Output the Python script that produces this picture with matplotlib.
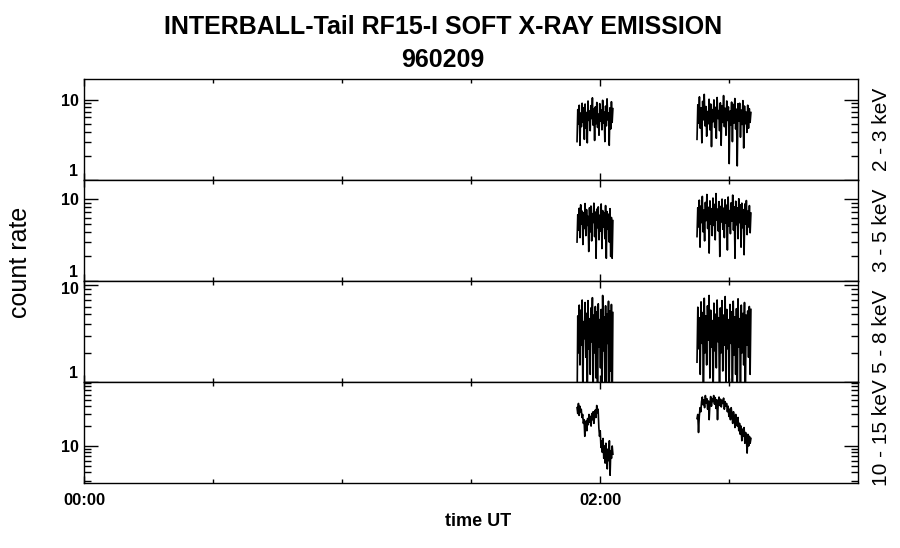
import numpy as np
import matplotlib
matplotlib.use("Agg")
import matplotlib.pyplot as plt
import matplotlib.transforms as mtransforms
from matplotlib.ticker import FixedLocator, FixedFormatter, LogLocator, NullFormatter

plt.rcParams["font.family"] = ["Liberation Sans", "DejaVu Sans"]

# time of the two data passes (hours UT)
seg_a_start, seg_a_end = 1.911, 2.050
seg_b_start, seg_b_end = 2.376, 2.585

bands = ["2 - 3 keV", "3 - 5 keV", "5 - 8 keV", "10 - 15 keV"]

# count rates, pass A / pass B for each band
p1a = [3.0, 7.5, 5.0, 8.5, 2.7, 6.8, 4.6, 9.0, 5.2, 7.9, 3.2, 8.8, 4.4, 6.9, 2.9, 9.6, 5.5,
       7.2, 4.1, 8.4, 5.8, 10.5, 4.8, 7.6, 3.1, 8.1, 5.0, 9.2, 4.5, 6.6, 3.6, 8.9, 5.4, 7.4,
       4.2, 9.8, 5.1, 7.0, 3.0, 8.3, 4.7, 10.2, 5.6, 6.8, 2.7, 7.9, 4.3, 9.4, 5.2, 7.7]
p1b = [3.2, 8.6, 5.1, 10.8, 4.4, 7.9, 2.9, 9.5, 5.6, 11.6, 4.7, 8.2, 3.5, 7.1, 5.0, 10.1,
       4.2, 8.8, 2.6, 7.5, 5.3, 9.9, 4.5, 8.0, 3.3, 10.6, 5.8, 7.3, 4.1, 9.1, 2.7, 8.4, 5.2,
       11.2, 4.6, 7.8, 3.6, 9.6, 5.5, 8.1, 1.6, 7.2, 4.8, 9.3, 3.0, 8.7, 5.1, 10.3, 4.3, 7.6,
       1.5, 8.9, 5.4, 9.0, 3.4, 7.4, 4.9, 9.7, 2.5, 8.3, 5.0, 7.0, 3.9, 8.5, 4.4, 7.7, 5.2, 6.9]
p2a = [3.0, 6.5, 4.2, 7.8, 3.4, 8.6, 5.0, 7.2, 2.8, 6.9, 4.4, 8.9, 3.6, 7.5, 4.8, 6.2, 2.3,
       7.9, 4.0, 8.3, 3.1, 6.7, 5.2, 9.0, 3.5, 7.0, 1.9, 7.6, 4.5, 8.1, 3.2, 6.4, 4.1, 8.8,
       2.5, 7.3, 4.6, 6.8, 3.3, 8.4, 1.9, 7.1, 4.3, 6.6, 3.0, 7.7, 2.0, 6.0, 1.9, 5.5]
p2b = [3.5, 7.9, 4.6, 9.8, 2.6, 8.3, 5.2, 10.9, 4.0, 7.4, 3.1, 9.2, 5.5, 11.5, 4.4, 8.0, 2.2,
       9.6, 5.0, 7.7, 3.6, 10.4, 4.8, 8.7, 3.2, 11.8, 5.6, 7.6, 4.1, 9.4, 2.0, 8.2, 5.3, 10.1,
       4.3, 7.8, 3.4, 9.9, 5.1, 8.5, 2.4, 10.7, 4.7, 7.3, 3.8, 9.1, 5.4, 11.3, 4.2, 8.1, 1.9,
       9.5, 4.9, 7.9, 3.3, 10.2, 5.2, 8.6, 2.6, 9.0, 4.5, 7.5, 2.1, 8.8, 5.0, 9.7, 3.7, 7.2,
       4.6, 8.4, 3.9, 6.8]
p3a = [0.5, 4.8, 2.0, 6.2, 1.5, 5.5, 2.4, 7.0, 0.6, 4.2, 2.8, 6.6, 1.8, 5.1, 0.5, 6.9, 2.2,
       4.5, 1.2, 5.8, 2.6, 7.4, 0.7, 4.9, 2.0, 6.0, 1.1, 5.3, 0.5, 6.4, 2.3, 4.4, 1.4, 5.6,
       0.6, 7.8, 2.1, 4.7, 1.0, 6.1, 0.5, 5.0, 2.5, 6.8, 0.5, 5.4, 1.3, 6.3, 0.5, 5.2]
p3b = [1.6, 5.9, 2.2, 4.6, 1.2, 6.7, 2.5, 5.2, 0.5, 7.3, 2.0, 4.8, 1.5, 6.1, 2.7, 7.8, 1.1,
       5.5, 2.3, 4.3, 0.6, 6.5, 2.1, 5.0, 1.4, 7.0, 2.6, 4.6, 0.5, 5.8, 2.0, 6.9, 1.3, 4.9,
       2.4, 7.6, 0.7, 5.6, 2.2, 4.4, 1.0, 6.3, 2.5, 5.3, 0.5, 6.8, 1.9, 4.7, 1.2, 5.7, 0.5,
       7.2, 2.3, 4.5, 0.6, 6.2, 2.0, 5.1, 1.5, 6.6, 0.5, 4.9, 2.4, 5.4, 1.8, 6.0, 1.2, 5.6]
p4a = [38, 31, 44, 29, 40, 33, 36, 27, 30, 22, 25, 14, 19, 24, 17, 26, 21, 30, 23, 28, 20,
       31, 25, 33, 22, 29, 35, 27, 41, 32, 36, 19, 14, 17, 9.5, 12, 8.0, 13, 6.5, 10, 5.5,
       11, 7.0, 4.5, 9.0, 6.0, 12, 3.6, 8.5, 6.5, 10, 7.5]
p4b = [26, 30, 16, 28, 38, 33, 47,
       55, 42, 50, 38, 58, 45, 52, 36, 48, 25, 44, 56, 40, 52, 47, 58, 43, 54, 37, 50, 25,
       46, 55, 41, 51, 39, 49, 44, 53, 36, 47, 40,
       44, 33, 40, 28, 36, 25, 38, 30, 22, 33, 27, 19, 30, 24, 20, 27, 17, 22, 15, 20, 12,
       18, 14, 19, 11, 16, 13, 7.8, 15, 10, 14, 11, 13]

series = [(p1a, p1b), (p2a, p2b), (p3a, p3b), (p4a, p4b)]
ylims = [(1.0, 18.0), (1.0, 17.3), (1.0, 11.0), (2.75, 93.0)]
ylabels_at = [[1, 10], [1, 10], [1, 10], [10]]

fig = plt.figure(figsize=(9.0, 5.48), dpi=100)
gs = fig.add_gridspec(4, 1, left=84/900, right=858/900, top=1-79/548, bottom=1-483/548,
                      hspace=0)

# labels "1" sit a little above their tick, as in the original;
# the "10" just under a panel join is pushed down a touch so the two do not collide
lift = mtransforms.ScaledTranslation(0, 10/100, fig.dpi_scale_trans)
drop = mtransforms.ScaledTranslation(0, -3/100, fig.dpi_scale_trans)

for i, (sa, sb) in enumerate(series):
    ax = fig.add_subplot(gs[i])
    ta = np.linspace(seg_a_start, seg_a_end, len(sa))
    tb = np.linspace(seg_b_start, seg_b_end, len(sb))
    ax.plot(ta, sa, color="black", lw=1.2)
    ax.plot(tb, sb, color="black", lw=1.2)

    ax.set_yscale("log")
    ax.set_ylim(*ylims[i])
    ax.set_xlim(0, 3)

    ax.yaxis.set_major_locator(FixedLocator(ylabels_at[i]))
    ax.yaxis.set_major_formatter(FixedFormatter([str(v) for v in ylabels_at[i]]))
    ax.yaxis.set_minor_locator(LogLocator(base=10, subs=np.arange(2, 10)))
    ax.yaxis.set_minor_formatter(NullFormatter())

    ax.xaxis.set_major_locator(FixedLocator([0, 2]))
    ax.xaxis.set_minor_locator(FixedLocator([0.5, 1.0, 1.5, 2.5]))
    if i == 3:
        ax.set_xticklabels(["00:00", "02:00"])
    else:
        ax.set_xticklabels([])

    ax.tick_params(axis="both", which="both", direction="in", top=True, right=True,
                   color="black", width=1.0)
    ax.tick_params(axis="y", which="major", length=10, labelsize=11.5, pad=4)
    ax.tick_params(axis="y", which="minor", length=5)
    ax.tick_params(axis="x", which="major", length=5, labelsize=12, pad=7)
    ax.tick_params(axis="x", which="minor", length=3)
    for lab in ax.get_xticklabels() + ax.get_yticklabels():
        lab.set_fontweight("bold")
    for v, lab in zip(ylabels_at[i], ax.get_yticklabels()):
        if v == 1:
            lab.set_transform(lab.get_transform() + lift)
        elif i == 2:
            lab.set_transform(lab.get_transform() + drop)
    for sp in ax.spines.values():
        sp.set_linewidth(1.0)

    ax.text(1.031, 0.5, bands[i], transform=ax.transAxes, rotation=90,
            ha="center", va="center", fontsize=15)

fig.text(0.492, 1-27/548, "INTERBALL-Tail RF15-I SOFT X-RAY EMISSION",
         ha="center", va="center", fontsize=18, fontweight="bold")
fig.text(0.492, 1-60/548, "960209", ha="center", va="center", fontsize=18,
         fontweight="bold")
fig.text(0.022, 1-262/548, "count rate", rotation=90, ha="center", va="center",
         fontsize=18)
fig.text(0.531, 1-522/548, "time UT", ha="center", va="center", fontsize=13,
         fontweight="bold")

fig.savefig("out.png", dpi=100)
